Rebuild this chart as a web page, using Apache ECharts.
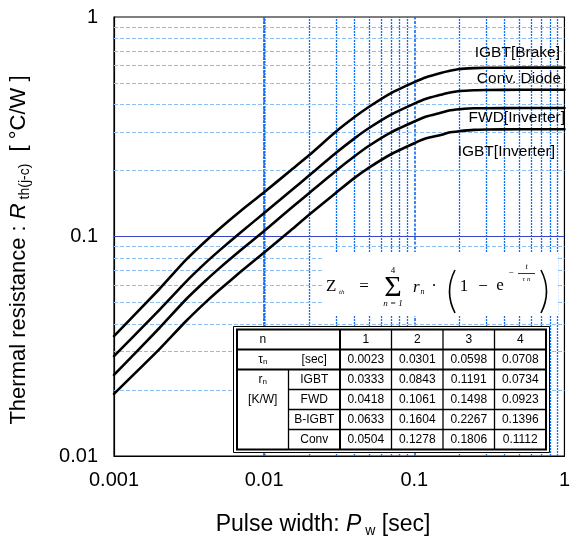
<!DOCTYPE html>
<html><head><meta charset="utf-8">
<script src="https://cdn.jsdelivr.net/npm/echarts@6/dist/echarts.min.js"></script>
<style>html,body{margin:0;padding:0;background:#fff}#c{width:573px;height:539px}</style>
</head><body><div id="c"></div>
<script>
// ---- data ----
const pulseWidth   = [0.001, 0.002, 0.003, 0.004, 0.005, 0.007, 0.01, 0.015, 0.02, 0.03, 0.04, 0.05, 0.07, 0.1, 0.12, 0.15, 0.17, 0.2, 0.25, 0.3, 0.5, 1];
const igbtBrake    = [0.0352, 0.0575, 0.078, 0.0942, 0.108, 0.131, 0.159, 0.200, 0.235, 0.300, 0.350, 0.390, 0.450, 0.505, 0.532, 0.556, 0.568, 0.580, 0.585, 0.587, 0.588, 0.588];
const convDiode    = [0.0285, 0.0462, 0.062, 0.075, 0.086, 0.1045, 0.128, 0.161, 0.190, 0.240, 0.280, 0.312, 0.359, 0.403, 0.424, 0.442, 0.452, 0.460, 0.464, 0.465, 0.466, 0.466];
const fwdInverter  = [0.0234, 0.0382, 0.0515, 0.0622, 0.0714, 0.0868, 0.106, 0.134, 0.158, 0.199, 0.232, 0.259, 0.298, 0.334, 0.352, 0.366, 0.375, 0.380, 0.384, 0.384, 0.385, 0.385];
const igbtInverter = [0.0192, 0.0306, 0.041, 0.0496, 0.0569, 0.0692, 0.0845, 0.1065, 0.126, 0.158, 0.185, 0.206, 0.237, 0.266, 0.280, 0.290, 0.298, 0.302, 0.306, 0.307, 0.308, 0.308];
const seriesNames  = ['IGBT[Brake]', 'Conv. Diode', 'FWD[Inverter]', 'IGBT[Inverter]'];

const xTickValues = [0.001, 0.01, 0.1, 1];
const xTickLabels = ['0.001', '0.01', '0.1', '1'];
const yTickValues = [0.01, 0.1, 1];
const yTickLabels = ['0.01', '0.1', '1'];

const gridMultipliers = [2, 3, 4, 5, 6, 7, 8, 9];
const xDecades = [0.001, 0.01, 0.1];
const yDecades = [0.01, 0.1];
const xMajorLines = [0.01, 0.1];
const yMajorLines = [0.1];

const tableHeader = ['1', '2', '3', '4'];
const tableTau    = ['0.0023', '0.0301', '0.0598', '0.0708'];
const tableRowNames = ['IGBT', 'FWD', 'B-IGBT', 'Conv'];
const tableR = [
  ['0.0333', '0.0843', '0.1191', '0.0734'],
  ['0.0418', '0.1061', '0.1498', '0.0923'],
  ['0.0633', '0.1604', '0.2267', '0.1396'],
  ['0.0504', '0.1278', '0.1806', '0.1112']
];

// ---- helpers ----
const SANS = 'Liberation Sans, Arial, sans-serif';
const SERIF = 'Liberation Serif, Times New Roman, serif';
function pairs(xs, ys) { return xs.map((x, i) => [x, ys[i]]); }
function lookup(vals, labels, v) {
  for (let i = 0; i < vals.length; i++) if (Math.abs(Math.log10(vals[i]) - Math.log10(v)) < 1e-6) return labels[i];
  return '';
}
const xMinor = [], yMinor = [];
xDecades.forEach(d => gridMultipliers.forEach(m => { const v = +(d * m).toPrecision(3); if (xMajorLines.indexOf(v) < 0) xMinor.push(v); }));
yDecades.forEach(d => gridMultipliers.forEach(m => yMinor.push(+(d * m).toPrecision(3))));

const vMinorStyle = { color: '#0a6fff', width: 1.3, type: [2, 1], opacity: 1 };
const vMajorStyle = { color: '#0a6aee', width: 1.6, type: [3, 1.5], opacity: 1 };
const hMinorStyle = { color: '#8dbff2', width: 1.1, type: [4, 2], opacity: 1 };
const hMajorStyle = { color: '#3545c6', width: 1.1, type: 'solid', opacity: 1 };

const gridLineData = []
  .concat(xMinor.map(v => ({ xAxis: v, lineStyle: vMinorStyle })))
  .concat(xMajorLines.map(v => ({ xAxis: v, lineStyle: vMajorStyle })))
  .concat(yMinor.map(v => ({ yAxis: v, lineStyle: hMinorStyle })))
  .concat(yMajorLines.map(v => ({ yAxis: v, lineStyle: hMajorStyle })));

// ---- graphic: table, formula, titles, curve labels ----
const G = [];
function txt(x, y, text, opt) {
  opt = opt || {};
  G.push({ type: 'text', x: x, y: y, z: 101, silent: true, rotation: opt.rotation || 0,
    style: Object.assign({ text: text, x: 0, y: 0, fill: '#000', fontSize: opt.fontSize || 12,
      fontFamily: opt.fontFamily || SANS, fontStyle: opt.fontStyle || 'normal',
      align: opt.align || 'center', verticalAlign: opt.verticalAlign || 'middle' }, opt.extra || {}) });
}
function line(x1, y1, x2, y2, w) {
  G.push({ type: 'line', z: 102, silent: true, shape: { x1: x1, y1: y1, x2: x2, y2: y2 }, style: { stroke: '#000', lineWidth: w } });
}
function rect(x, y, w, h, fill, stroke, lw) {
  G.push({ type: 'rect', z: 100, silent: true, shape: { x: x, y: y, width: w, height: h },
    style: { fill: fill || 'none', stroke: stroke || 'none', lineWidth: lw || 0 } });
}
function curve(x1, y1, cx, cy, x2, y2, w) {
  G.push({ type: 'bezierCurve', z: 102, silent: true, shape: { x1: x1, y1: y1, cpx1: cx, cpy1: cy, x2: x2, y2: y2 },
    style: { stroke: '#000', lineWidth: w, fill: 'none' } });
}

// formula white background
rect(322, 252, 236, 64, '#fff');
// table
const T = { x0: 237, x1: 288.5, x2: 340, colW: 51.5, y0: 329.5, rowH: 20 };
const tRight = T.x2 + 4 * T.colW, tBottom = T.y0 + 6 * T.rowH;
rect(233.5, 326.5, tRight - 233.5 + 3.5, tBottom - 326.5 + 3, '#fff', '#000', 1);
rect(T.x0, T.y0, tRight - T.x0, tBottom - T.y0, 'none', '#000', 2);
line(T.x0, T.y0 + T.rowH, tRight, T.y0 + T.rowH, 2);
line(T.x0, T.y0 + 2 * T.rowH, tRight, T.y0 + 2 * T.rowH, 2);
for (let r = 3; r < 6; r++) line(T.x1, T.y0 + r * T.rowH, tRight, T.y0 + r * T.rowH, 1.3);
line(T.x1, T.y0 + 2 * T.rowH, T.x1, tBottom, 1.3);
line(T.x2, T.y0, T.x2, tBottom, 2);
for (let c = 1; c < 4; c++) line(T.x2 + c * T.colW, T.y0, T.x2 + c * T.colW, tBottom, 1.3);
const colC = c => T.x2 + (c + 0.5) * T.colW;
const rowC = r => T.y0 + (r + 0.5) * T.rowH;
const c1 = (T.x0 + T.x1) / 2, c2 = (T.x1 + T.x2) / 2;
const subRich = { a: { fontSize: 12, fontFamily: SANS, fill: '#000' }, b: { fontSize: 8, fontFamily: SANS, fill: '#000', verticalAlign: 'bottom', padding: [4, 0, 0, 0] } };
txt(c1, rowC(0), 'n');
tableHeader.forEach((s, i) => txt(colC(i), rowC(0), s));
txt(c1, rowC(1), '{a|τ}{b|n}', { extra: { rich: subRich } });
txt(c2, rowC(1), '[sec]');
tableTau.forEach((s, i) => txt(colC(i), rowC(1), s));
txt(c1, rowC(2), '{a|r}{b|n}', { extra: { rich: subRich } });
txt(c1, rowC(3), '[K/W]');
tableRowNames.forEach((nm, r) => {
  txt(c2, rowC(r + 2), nm);
  tableR[r].forEach((s, i) => txt(colC(i), rowC(r + 2), s));
});

// formula
txt(326, 287, 'Z', { fontSize: 17, fontFamily: SERIF, align: 'left' });
txt(339, 292, 'th', { fontSize: 7, fontFamily: SERIF, fontStyle: 'italic', align: 'left' });
txt(364, 287, '=', { fontSize: 17, fontFamily: SERIF });
txt(393, 288, 'Σ', { fontSize: 30, fontFamily: SERIF });
txt(393, 271, '4', { fontSize: 9, fontFamily: SERIF });
txt(393, 304, 'n = 1', { fontSize: 9, fontFamily: SERIF, fontStyle: 'italic' });
txt(413, 288, 'r', { fontSize: 17, fontFamily: SERIF, fontStyle: 'italic', align: 'left' });
txt(420.5, 292, 'n', { fontSize: 8, fontFamily: SERIF, fontStyle: 'italic', align: 'left' });
txt(434, 287, '·', { fontSize: 17, fontFamily: SERIF });
curve(455, 270, 444, 291.5, 455, 313, 1.6);
txt(464, 287, '1', { fontSize: 17, fontFamily: SERIF });
txt(483, 287, '−', { fontSize: 17, fontFamily: SERIF });
txt(500, 286, 'e', { fontSize: 17, fontFamily: SERIF });
txt(511, 273, '−', { fontSize: 9, fontFamily: SERIF });
line(518, 273.5, 535, 273.5, 0.8);
txt(526.5, 267, 't', { fontSize: 8, fontFamily: SERIF, fontStyle: 'italic' });
txt(526.5, 279, 'τ n', { fontSize: 7, fontFamily: SERIF, fontStyle: 'italic' });
curve(541, 270, 552, 291.5, 541, 313, 1.6);

// curve labels
txt(560, 53, seriesNames[0], { fontSize: 15.5, align: 'right' });
txt(561, 79, seriesNames[1], { fontSize: 15.5, align: 'right' });
txt(565, 118, seriesNames[2], { fontSize: 15.5, align: 'right' });
txt(555, 152, seriesNames[3], { fontSize: 15.5, align: 'right' });

// axis titles
const titleRichY = {
  a: { fontSize: 22, fontFamily: SANS, fill: '#000' },
  i: { fontSize: 22, fontFamily: SANS, fontStyle: 'italic', fill: '#000' },
  s: { fontSize: 14, fontFamily: SANS, fill: '#000', verticalAlign: 'bottom', padding: [12, 0, 0, 0] }
};
const titleRichX = {
  a: { fontSize: 23, fontFamily: SANS, fill: '#000' },
  i: { fontSize: 23, fontFamily: SANS, fontStyle: 'italic', fill: '#000' },
  s: { fontSize: 14, fontFamily: SANS, fill: '#000', verticalAlign: 'bottom', padding: [12, 0, 0, 0] }
};
txt(19, 250, '{a|Thermal resistance : }{i|R}{s| th(j-c)}{a|  [ °C/W ]}', { rotation: Math.PI / 2, extra: { rich: titleRichY } });
txt(323, 525, '{a|Pulse width: }{i|P}{s| w}{a| [sec]}', { extra: { rich: titleRichX } });

// ---- chart ----
const chart = echarts.init(document.getElementById('c'), null, { renderer: 'canvas' });
const curveStyle = { color: '#000', width: 2.6, join: 'round', cap: 'round' };
const curves = [igbtBrake, convDiode, fwdInverter, igbtInverter].map((arr, i) => ({
  name: seriesNames[i], type: 'line', data: pairs(pulseWidth, arr), showSymbol: false, symbol: 'none',
  smooth: 0.2, lineStyle: curveStyle, z: 5, silent: true
}));
chart.setOption({
  animation: false,
  backgroundColor: '#fff',
  grid: { left: 114, right: 2, top: 17, bottom: 83, show: true, borderColor: '#000', borderWidth: 1.2, backgroundColor: 'transparent' },
  xAxis: {
    type: 'log', logBase: 10, min: 0.001, max: 1, splitNumber: 3,
    axisLine: { show: true, lineStyle: { color: '#000', width: 1.2 } },
    axisTick: { show: false }, splitLine: { show: false },
    axisLabel: { fontSize: 20, fontFamily: SANS, color: '#000', margin: 14, showMinLabel: true, showMaxLabel: true,
      formatter: v => lookup(xTickValues, xTickLabels, v) }
  },
  yAxis: {
    type: 'log', logBase: 10, min: 0.01, max: 1, splitNumber: 2,
    axisLine: { show: true, lineStyle: { color: '#000', width: 1.2 } },
    axisTick: { show: false }, splitLine: { show: false },
    axisLabel: { fontSize: 20, fontFamily: SANS, color: '#000', margin: 16, showMinLabel: true, showMaxLabel: true,
      formatter: v => lookup(yTickValues, yTickLabels, v) }
  },
  graphic: G,
  series: [{
    type: 'line', data: [[0.001, 0.01]], symbol: 'none', lineStyle: { opacity: 0 }, z: 1, silent: true,
    markLine: { silent: true, symbol: 'none', label: { show: false }, animation: false,
      lineStyle: { opacity: 1 }, emphasis: { disabled: true }, data: gridLineData }
  }].concat(curves)
});
</script></body></html>
